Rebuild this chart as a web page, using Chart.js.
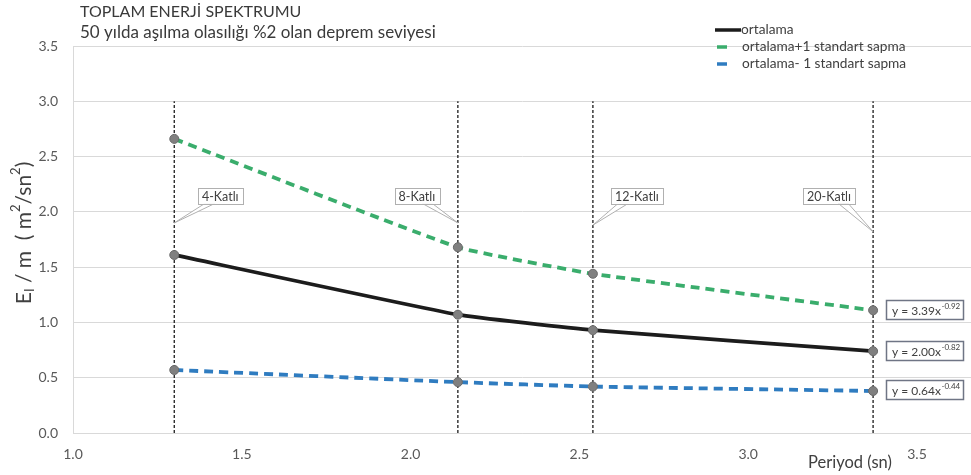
<!DOCTYPE html>
<html>
<head>
<meta charset="utf-8">
<script src="https://cdn.jsdelivr.net/npm/chart.js@4/dist/chart.umd.min.js"></script>
<style>
  html, body { margin: 0; padding: 0; background: #ffffff; }
  #wrap { width: 971px; height: 475px; position: relative; }
</style>
</head>
<body>
<div id="wrap"><canvas id="chart" width="971" height="475"></canvas></div>
<script>
// Headings
const titleLines = ['TOPLAM ENERJİ SPEKTRUMU', '50 yılda aşılma olasılığı %2 olan deprem seviyesi'];
const xAxisTitle = 'Periyod (sn)';

// Building periods (s) and their labels
const periods = [1.30, 2.14, 2.54, 3.37];
const storyLabels = ['4-Katlı', '8-Katlı', '12-Katlı', '20-Katlı'];
const calloutLevels = [1.90, 1.90, 1.88, 1.82];
const guideTop = 3.0;

// Input energy per unit mass at each period
const meanValues = [1.61, 1.07, 0.93, 0.74];
const plusSdValues = [2.66, 1.68, 1.44, 1.11];
const minusSdValues = [0.57, 0.46, 0.42, 0.38];
const seriesNames = ['ortalama', 'ortalama+1 standart sapma', 'ortalama- 1 standart sapma'];

// Power-law fits y = a·x^b (mean+sd, mean, mean-sd)
const fitCoefficients = ['3.39', '2.00', '0.64'];
const fitExponents = ['-0.92', '-0.82', '-0.44'];

// Axis ticks
const xTicks = [1.0, 1.5, 2.0, 2.5, 3.0, 3.5];
const yTicks = [0.0, 0.5, 1.0, 1.5, 2.0, 2.5, 3.0, 3.5];

const FONT = 'Lato, "Open Sans", sans-serif';
const GREEN = '#3aad6c';
const BLUE = '#2f7cc0';
const BLACK = '#1c1c1c';

const toPoints = vals => periods.map((p, i) => ({ x: p, y: vals[i] }));

const pointStyle = {
  pointRadius: 4.5,
  pointBackgroundColor: '#808080',
  pointBorderColor: '#6a6a6a',
  pointBorderWidth: 1,
  pointHoverRadius: 4.5
};

const guideSets = periods.map(p => ({
  type: 'line',
  data: [{ x: p, y: 0 }, { x: p, y: guideTop }],
  borderColor: '#2b2b2b',
  borderWidth: 1.4,
  borderDash: [3, 2],
  pointRadius: 0,
  order: 10,
  fill: false
}));

const curve = { tension: 0.12, cubicInterpolationMode: 'default', fill: false };

const seriesSets = [
  Object.assign({
    label: seriesNames[0], data: toPoints(meanValues),
    borderColor: BLACK, borderWidth: 3.8, borderDash: [], order: 2
  }, curve, pointStyle),
  Object.assign({
    label: seriesNames[1], data: toPoints(plusSdValues),
    borderColor: GREEN, borderWidth: 3.8, borderDash: [9, 6], order: 1
  }, curve, pointStyle),
  Object.assign({
    label: seriesNames[2], data: toPoints(minusSdValues),
    borderColor: BLUE, borderWidth: 3.8, borderDash: [9, 6], order: 3
  }, curve, pointStyle)
];
const seriesOffset = guideSets.length;

// Text, legend, callouts and fit-equation boxes drawn on the canvas
const annotations = {
  id: 'annotations',
  afterDatasetsDraw(chart) {
    const ctx = chart.ctx;
    const xs = chart.scales.x, ys = chart.scales.y;

    // story callouts: box offset from the anchor on the guide line
    const offsets = [[46, -27], [-41, -27], [44, -29], [-44, -36]];
    ctx.save();
    ctx.font = '12.5px ' + FONT;
    periods.forEach((p, i) => {
      const ax = xs.getPixelForValue(p);
      const ay = ys.getPixelForValue(calloutLevels[i]);
      const cx = ax + offsets[i][0], cy = ay + offsets[i][1];
      const w = ctx.measureText(storyLabels[i]).width + 8, h = 16;
      const l = cx - w / 2, t = cy - h / 2, b = t + h;
      const left = offsets[i][0] > 0;
      const b1 = left ? l + 7 : l + w - 17;
      const b2 = left ? l + 17 : l + w - 7;
      ctx.beginPath();
      ctx.moveTo(b1, b - 0.5);
      ctx.lineTo(ax, ay);
      ctx.lineTo(b2, b - 0.5);
      ctx.closePath();
      ctx.fillStyle = '#ffffff';
      ctx.fill();
      ctx.strokeStyle = '#b0b0b0';
      ctx.lineWidth = 1;
      ctx.stroke();
      ctx.fillRect(l, t, w, h);
      ctx.strokeRect(Math.round(l) + 0.5, Math.round(t) + 0.5, Math.round(w), h);
      ctx.fillStyle = '#404040';
      ctx.textAlign = 'center';
      ctx.textBaseline = 'middle';
      ctx.fillText(storyLabels[i], cx, cy + 1);
    });
    ctx.restore();

    // fit-equation boxes beside the last point of each series
    const order = [1, 0, 2];
    ctx.save();
    order.forEach((s, k) => {
      const meta = chart.getDatasetMeta(seriesOffset + s);
      const last = meta.data[meta.data.length - 1];
      const l = Math.round(last.x + 13), w = 77, h = 19;
      const t = Math.round(last.y - h / 2 - 1);
      ctx.fillStyle = '#ffffff';
      ctx.fillRect(l, t, w, h);
      ctx.strokeStyle = '#6f7585';
      ctx.lineWidth = 1.5;
      ctx.strokeRect(l + 0.5, t + 0.5, w, h);
      ctx.fillStyle = '#404040';
      ctx.textBaseline = 'alphabetic';
      ctx.textAlign = 'left';
      ctx.font = '12px ' + FONT;
      const main = 'y = ' + fitCoefficients[k] + 'x';
      ctx.fillText(main, l + 6, t + 14.5);
      const mw = ctx.measureText(main).width;
      ctx.font = '8px ' + FONT;
      ctx.fillText(fitExponents[k], l + 6 + mw + 0.5, t + 8.5);
    });
    ctx.restore();
  },
  afterDraw(chart) {
    const ctx = chart.ctx;
    ctx.save();
    // heading
    ctx.fillStyle = '#3a3a3a';
    ctx.textAlign = 'left';
    ctx.textBaseline = 'middle';
    ctx.font = '16px ' + FONT;
    ctx.fillText(titleLines[0], 80, 12);
    ctx.font = '17px ' + FONT;
    ctx.fillText(titleLines[1], 80, 33);

    // legend
    const legendY = [30, 47, 64];
    const colors = [BLACK, GREEN, BLUE];
    ctx.font = '13.7px ' + FONT;
    ctx.fillStyle = '#404040';
    seriesNames.forEach((name, i) => {
      ctx.beginPath();
      ctx.strokeStyle = colors[i];
      ctx.lineWidth = 3.5;
      if (i === 0) { ctx.moveTo(715, legendY[i]); ctx.lineTo(741, legendY[i]); }
      else { ctx.moveTo(717, legendY[i]); ctx.lineTo(727, legendY[i]); }
      ctx.stroke();
      ctx.fillText(name, i === 0 ? 741 : 742, legendY[i]);
    });

    // y-axis title: E_I / m ( m²/sn²)
    ctx.translate(24, 233);
    ctx.rotate(-Math.PI / 2);
    const parts = [
      ['E', 21, 0], ['I', 13, 6], [' / m  ( m', 21, 0], ['2', 13, -8],
      ['/sn', 21, 0], ['2', 13, -8], [')', 21, 0]
    ];
    let total = 0;
    parts.forEach(p => { ctx.font = p[1] + 'px ' + FONT; total += ctx.measureText(p[0]).width; });
    let x = -total / 2;
    ctx.fillStyle = '#404040';
    ctx.textBaseline = 'middle';
    parts.forEach(p => {
      ctx.font = p[1] + 'px ' + FONT;
      ctx.fillText(p[0], x, p[2]);
      x += ctx.measureText(p[0]).width;
    });
    ctx.restore();

    // x-axis title
    ctx.save();
    ctx.fillStyle = '#404040';
    ctx.font = '16.5px ' + FONT;
    ctx.textAlign = 'center';
    ctx.textBaseline = 'middle';
    ctx.fillText(xAxisTitle, 850, 463);
    ctx.restore();
  }
};

new Chart(document.getElementById('chart'), {
  type: 'line',
  data: { datasets: guideSets.concat(seriesSets) },
  options: {
    responsive: false,
    maintainAspectRatio: false,
    devicePixelRatio: 1,
    animation: false,
    events: [],
    layout: { autoPadding: false, padding: { top: 46, left: 0, right: 0, bottom: 0 } },
    plugins: { legend: { display: false }, title: { display: false }, tooltip: { enabled: false } },
    scales: {
      x: {
        type: 'linear', min: 1.0, max: 3.66,
        afterFit: s => { s.height = 42; s.paddingLeft = 0; s.paddingRight = 0; },
        afterBuildTicks: s => { s.ticks = xTicks.map(v => ({ value: v })); },
        grid: { display: false, drawTicks: false },
        border: { display: true, color: '#d9d9d9', width: 1 },
        ticks: {
          padding: 13, color: '#595959', font: { family: FONT, size: 14 },
          callback: v => Number(v).toFixed(1), maxRotation: 0
        }
      },
      y: {
        type: 'linear', min: 0, max: 3.5,
        afterFit: s => { s.width = 73; },
        afterBuildTicks: s => { s.ticks = yTicks.map(v => ({ value: v })); },
        grid: { color: '#d9d9d9', lineWidth: 1, drawTicks: false },
        border: { display: true, color: '#d9d9d9', width: 1 },
        ticks: {
          padding: 15, color: '#595959', font: { family: FONT, size: 14 },
          callback: v => Number(v).toFixed(1)
        }
      }
    }
  },
  plugins: [annotations]
});
</script>
</body>
</html>
